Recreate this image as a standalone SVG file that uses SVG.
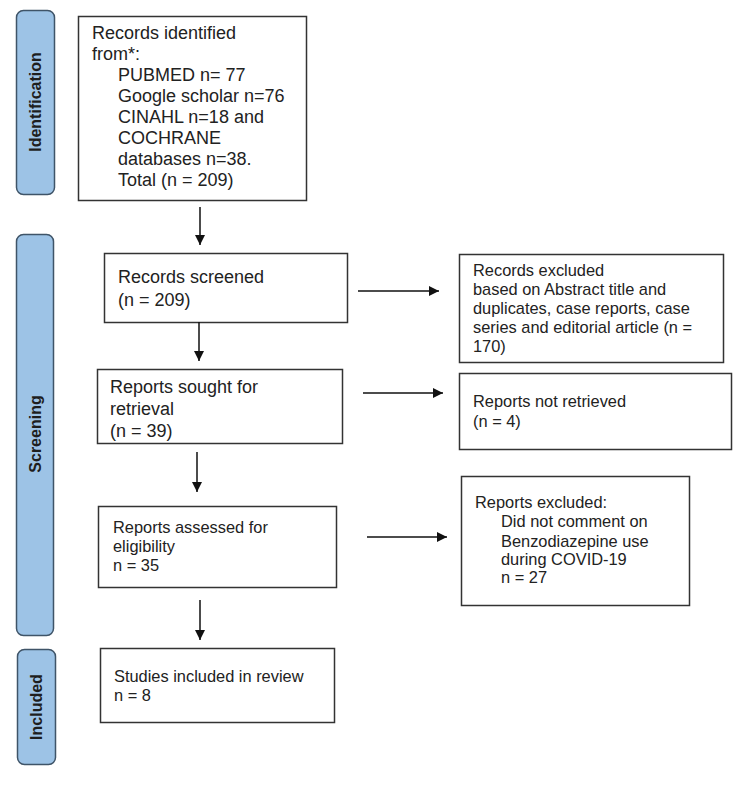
<svg xmlns="http://www.w3.org/2000/svg" width="750" height="788" viewBox="0 0 750 788">
<style>
.lab{fill:#9dc3e6;stroke:#3f5468;stroke-width:1.5}
.labt{font-family:"Liberation Sans",Arial,sans-serif;font-weight:bold;font-size:16px;fill:#1e1e1e;text-anchor:middle}
.box{fill:#fff;stroke:#333;stroke-width:1.5}
.t18{font-family:"Liberation Sans",Arial,sans-serif;font-size:18px;fill:#222}
.t16{font-family:"Liberation Sans",Arial,sans-serif;font-size:16.4px;fill:#222}
.con{stroke:#111;stroke-width:1.5;fill:none;marker-end:url(#ah)}
</style>
<defs>
<marker id="ah" viewBox="0 0 10 10" refX="10" refY="5" markerWidth="10" markerHeight="10" markerUnits="userSpaceOnUse" orient="auto">
<path d="M0,0 L10,5 L0,10 z" fill="#111"/>
</marker>
</defs>
<rect width="750" height="788" fill="#fff"/>

<g id="label-identification">
<rect class="lab" x="16.5" y="10.5" width="38" height="184" rx="7"/>
<text class="labt" transform="translate(41,102) rotate(-90)">Identification</text>
</g>
<g id="label-screening">
<rect class="lab" x="16.5" y="234.5" width="37" height="401" rx="7"/>
<text class="labt" transform="translate(41,434) rotate(-90)">Screening</text>
</g>
<g id="label-included">
<rect class="lab" x="17.5" y="649.5" width="38" height="115" rx="7"/>
<text class="labt" transform="translate(42,707) rotate(-90)">Included</text>
</g>

<g id="n-identified">
<rect class="box" x="78.5" y="16.5" width="228" height="184"/>
<text class="t18" x="92" y="39">Records identified</text>
<text class="t18" x="92" y="60">from*:</text>
<text class="t18" x="118" y="81">PUBMED n= 77</text>
<text class="t18" x="118" y="102">Google scholar n=76</text>
<text class="t18" x="118" y="123">CINAHL n=18 and</text>
<text class="t18" x="118" y="144">COCHRANE</text>
<text class="t18" x="118" y="165">databases n=38.</text>
<text class="t18" x="118" y="186">Total (n = 209)</text>
</g>

<g id="n-screened">
<rect class="box" x="104.5" y="253.5" width="243" height="69"/>
<text class="t18" x="118" y="283">Records screened</text>
<text class="t18" x="118" y="306">(n = 209)</text>
</g>

<g id="n-excluded1">
<rect class="box" x="459.5" y="254.5" width="264" height="108"/>
<text class="t16" x="473" y="276">Records excluded</text>
<text class="t16" x="473" y="295">based on Abstract title and</text>
<text class="t16" x="473" y="314">duplicates, case reports, case</text>
<text class="t16" x="473" y="333">series and editorial article (n =</text>
<text class="t16" x="473" y="352">170)</text>
</g>

<g id="n-sought">
<rect class="box" x="97.5" y="369.5" width="245" height="74"/>
<text class="t18" x="110" y="393">Reports sought for</text>
<text class="t18" x="110" y="415">retrieval</text>
<text class="t18" x="110" y="437">(n = 39)</text>
</g>

<g id="n-notretrieved">
<rect class="box" x="459.5" y="373.5" width="272" height="76"/>
<text class="t16" x="473" y="407">Reports not retrieved</text>
<text class="t16" x="473" y="427">(n = 4)</text>
</g>

<g id="n-assessed">
<rect class="box" x="98.5" y="506.5" width="238" height="81"/>
<text class="t16" x="113" y="533">Reports assessed for</text>
<text class="t16" x="113" y="552">eligibility</text>
<text class="t16" x="113" y="571">n = 35</text>
</g>

<g id="n-excluded2">
<rect class="box" x="461.5" y="476.5" width="228" height="129"/>
<text class="t16" x="475" y="508">Reports excluded:</text>
<text class="t16" x="501" y="527">Did not comment on</text>
<text class="t16" x="501" y="547">Benzodiazepine use</text>
<text class="t16" x="501" y="565">during COVID-19</text>
<text class="t16" x="501" y="583">n = 27</text>
</g>

<g id="n-included">
<rect class="box" x="100.5" y="648.5" width="234" height="74"/>
<text class="t16" x="114" y="682">Studies included in review</text>
<text class="t16" x="114" y="701">n = 8</text>
</g>

<g id="connectors">
<line class="con" x1="200" y1="207" x2="200" y2="245"/>
<line class="con" x1="199" y1="322" x2="199" y2="361"/>
<line class="con" x1="197" y1="452" x2="197" y2="492"/>
<line class="con" x1="200" y1="600" x2="200" y2="640"/>
<line class="con" x1="358" y1="291" x2="439" y2="291"/>
<line class="con" x1="363" y1="393" x2="443" y2="393"/>
<line class="con" x1="367" y1="537" x2="447" y2="537"/>
</g>
</svg>
